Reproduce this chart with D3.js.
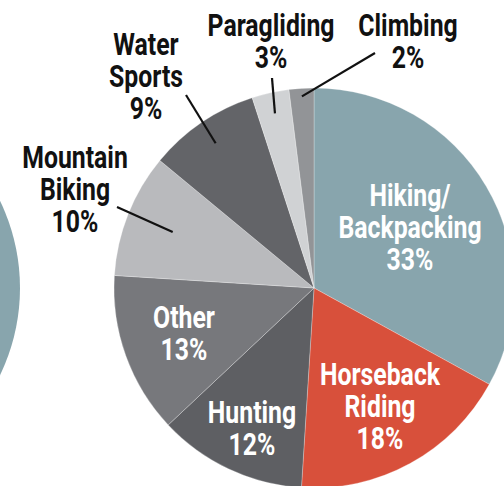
<!DOCTYPE html>
<html>
<head>
<meta charset="utf-8">
<script src="https://cdn.jsdelivr.net/npm/d3@7"></script>
<style>
    html, body { margin: 0; padding: 0; background: #fff; }
    #viz { width: 504px; height: 486px; overflow: hidden; }
    text { font-family: Roboto, "Liberation Sans", sans-serif; font-weight: bold; }
</style>
</head>
<body>
<div id="viz"><svg id="chart" width="504" height="486"></svg></div>
<script>

// activity share, clockwise from 12 o'clock
const activities = ["Hiking/\nBackpacking", "Horseback\nRiding", "Hunting", "Other",
                    "Mountain\nBiking", "Water\nSports", "Paragliding", "Climbing"]
const shares = [33, 18, 12, 13, 10, 9, 3, 2]

const colors = ["#88a5ad", "#d8503b", "#5e5f63", "#77787c",
                "#b9babd", "#636468", "#d0d2d4", "#929497"]

// label layout: anchor of first line, text colour, optional leader line
// leader: [inner radius on the slice's mid angle, outer end x, outer end y]
const layout = [
    { x: 410, y: 206, fill: "#fff" },
    { x: 380, y: 385, fill: "#fff" },
    { x: 252, y: 423, fill: "#fff" },
    { x: 184, y: 328, fill: "#fff" },
    { x: 75,  y: 168, fill: "#111", leader: [152, 117, 207] },
    { x: 146, y: 55,  fill: "#111", leader: [175, 186, 95] },
    { x: 271, y: 36,  fill: "#111", leader: [179, 272, 78] },
    { x: 408, y: 36,  fill: "#111", leader: [192, 375, 53] }
]

const svg = d3.select("#chart"),
    cx = 314,
    cy = 288,
    radius = 200,
    line_height = 32,
    squeeze = 0.8   // the source face is a condensed one

// neighbouring pie, only its edge shows at the left
svg.append("circle")
    .attr("cx", cx - 494)
    .attr("cy", cy)
    .attr("r", radius)
    .attr("fill", colors[0])

const pie = d3.pie().sort(null).value(d => d)
const arcs = pie(shares)

const arc = d3.arc().innerRadius(0).outerRadius(radius)

const g = svg.append("g").attr("transform", "translate(" + cx + "," + cy + ")")

g.selectAll("path")
    .data(arcs)
    .enter().append("path")
    .attr("d", arc)
    .attr("fill", (d, i) => colors[i])
    .attr("stroke", "rgba(255,255,255,0.45)")
    .attr("stroke-width", 0.6)

// leader lines
arcs.forEach(function(d, i) {
    let lead = layout[i].leader
    if (!lead) return
    let mid = (d.startAngle + d.endAngle) / 2
    let p = d3.pointRadial(mid, lead[0])
    svg.append("line")
        .attr("x1", cx + p[0])
        .attr("y1", cy + p[1])
        .attr("x2", lead[1])
        .attr("y2", lead[2])
        .attr("stroke", "#111")
        .attr("stroke-width", 2.2)
})

// labels
activities.forEach(function(name, i) {
    let lines = name.split("\n").concat([shares[i] + "%"])
    let t = svg.append("g")
        .attr("transform", "translate(" + layout[i].x + "," + layout[i].y + ") scale(" + squeeze + ",1)")
        .append("text")
        .attr("text-anchor", "middle")
        .attr("font-size", 31)
        .attr("fill", layout[i].fill)
    lines.forEach(function(s, k) {
        t.append("tspan")
            .attr("x", 0)
            .attr("y", k * line_height)
            .text(s)
    })
})

</script>
</body>
</html>
